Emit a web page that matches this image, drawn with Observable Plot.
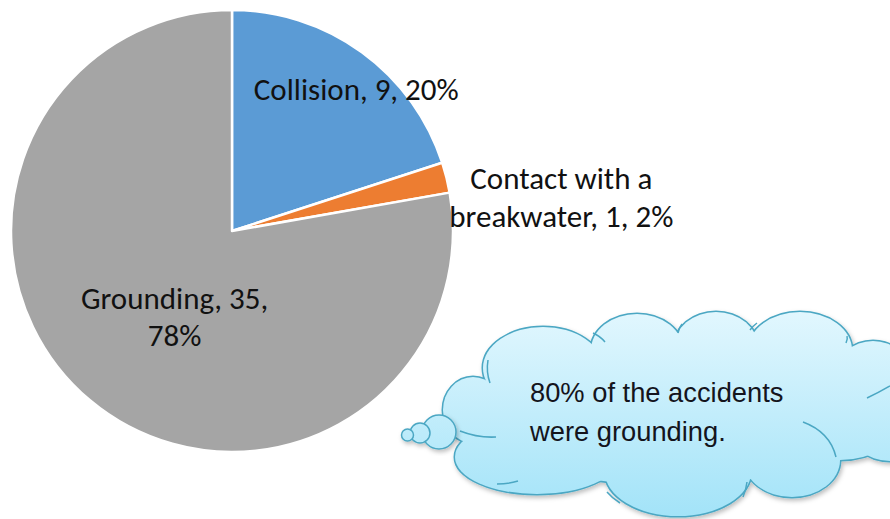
<!DOCTYPE html>
<html><head><meta charset="utf-8">
<script src="https://cdn.jsdelivr.net/npm/d3@7"></script>
<script src="https://cdn.jsdelivr.net/npm/@observablehq/plot@0.6"></script>
<style>body{margin:0;background:#fff} svg{display:block}</style>
</head><body><div id="chart"></div>
<script>
// ---- data ----
const categories = ["Collision", "Contact with a breakwater", "Grounding"];
const counts = [9, 1, 35];
const percents = [20, 2, 78];
const calloutLines = ["80% of the accidents", "were grounding."];

// ---- styles / layout ----
const colors = ["#5B9BD5", "#ED7D31", "#A5A5A5"];
const labelBreaks = [null, "with a ", "35, "];
const labelPos = [[0.56, 0.647], [1.488, 0.16], [-0.262, -0.382]];
const W = 890, H = 519;
const xRange = [11, 453], yRange = [452, 10];

const rows = categories.map((c, i) => {
  let t = `${c}, ${counts[i]}, ${percents[i]}%`;
  if (labelBreaks[i]) t = t.replace(labelBreaks[i], labelBreaks[i].trimEnd() + "\n");
  return {category: c, count: counts[i], label: t, lx: labelPos[i][0], ly: labelPos[i][1], color: colors[i]};
});

function pieMark(index, scales) {
  const sx = (scales && scales.x) || d3.scaleLinear([-1, 1], xRange);
  const sy = (scales && scales.y) || d3.scaleLinear([-1, 1], yRange);
  const cx = sx(0), cy = sy(0), r = sx(1) - sx(0);
  const g = d3.create("svg:g").attr("transform", `translate(${cx},${cy})`);
  const arcs = d3.pie().sort(null).value(d => d.count)(rows);
  const arc = d3.arc().innerRadius(0).outerRadius(r);
  g.selectAll("path").data(arcs).join("path")
    .attr("d", arc).attr("fill", d => d.data.color)
    .attr("stroke", "#fff").attr("stroke-width", 2.5).attr("stroke-linejoin", "round");
  return g.node();
}

// cloud callout (decoration)
const cloudEllipses = [
  [473, 410, 30, 33], [543, 368, 60, 41], [637, 350, 46, 36], [716, 347, 42, 35],
  [800, 350, 52, 38], [873, 374, 37, 33], [890, 425, 42, 36], [792, 460, 48, 37],
  [678, 472, 73, 44], [537, 457, 82, 37], [670, 415, 200, 70], [840, 420, 60, 40]
];
const cloudInnerArcs = [
  "M460,431 Q478,438 496,437", "M490,383 Q486,372 488,360", "M593,333 Q600,336 605,342",
  "M678,333 Q679,328 682,324", "M750,330 Q753,326 757,323", "M846,343 Q848,339 847,336",
  "M867,398 Q878,393 890,386", "M803,422 Q830,432 836,457", "M747,482 Q746,490 743,497",
  "M607,492 Q612,498 620,503", "M497,484 Q508,484 518,481"
];
const bubbles = [[439, 432, 17], [420, 433, 10], [407.5, 435, 6]];

function cloudMark() {
  const g = d3.create("svg:g");
  const defs = g.append("defs");
  const grad = defs.append("linearGradient").attr("id", "cg").attr("gradientUnits", "userSpaceOnUse")
    .attr("x1", 0).attr("y1", 310).attr("x2", 0).attr("y2", 519);
  grad.append("stop").attr("offset", 0).attr("stop-color", "#E2F7FE");
  grad.append("stop").attr("offset", 1).attr("stop-color", "#A2E3F8");
  const f = defs.append("filter").attr("id", "sh").attr("x", "-10%").attr("y", "-10%").attr("width", "130%").attr("height", "130%");
  f.append("feDropShadow").attr("dx", 1.5).attr("dy", 2.5).attr("stdDeviation", 2).attr("flood-color", "#000").attr("flood-opacity", 0.25);
  const outl = g.append("g").attr("filter", "url(#sh)");
  outl.selectAll("ellipse").data(cloudEllipses).join("ellipse")
    .attr("cx", d => d[0]).attr("cy", d => d[1]).attr("rx", d => d[2]).attr("ry", d => d[3])
    .attr("fill", "url(#cg)").attr("stroke", "#4BA7C3").attr("stroke-width", 3);
  g.append("g").selectAll("ellipse").data(cloudEllipses).join("ellipse")
    .attr("cx", d => d[0]).attr("cy", d => d[1]).attr("rx", d => d[2]).attr("ry", d => d[3])
    .attr("fill", "url(#cg)");
  g.append("g").selectAll("path").data(cloudInnerArcs).join("path")
    .attr("d", d => d).attr("fill", "none").attr("stroke", "#4BA7C3").attr("stroke-width", 1.5);
  g.append("g").attr("filter", "url(#sh)").selectAll("circle").data(bubbles).join("circle")
    .attr("cx", d => d[0]).attr("cy", d => d[1]).attr("r", d => d[2])
    .attr("fill", "url(#cg)").attr("stroke", "#4BA7C3").attr("stroke-width", 1.5);
  const t = g.append("text").attr("font-family", "'Liberation Sans', Arial, sans-serif")
    .attr("text-anchor", "start").attr("font-size", 27.3).attr("fill", "#14141c");
  calloutLines.forEach((s, i) => t.append("tspan").attr("x", 530).attr("y", 402 + i * 39).text(s));
  return g.node();
}

const chart = Plot.plot({
  width: W, height: H,
  margin: 0,
  x: {domain: [-1, 1], range: xRange, axis: null},
  y: {domain: [-1, 1], range: yRange, axis: null},
  style: {background: "#fff", overflow: "visible"},
  marks: [
    pieMark,
    Plot.text(rows, {x: "lx", y: "ly", text: "label", fontSize: 31, lineHeight: 1.2,
      fontFamily: "Carlito, Lato, sans-serif", fill: "#111", textAnchor: "middle"}),
    cloudMark
  ]
});
document.getElementById("chart").append(chart);
</script>
</body></html>
